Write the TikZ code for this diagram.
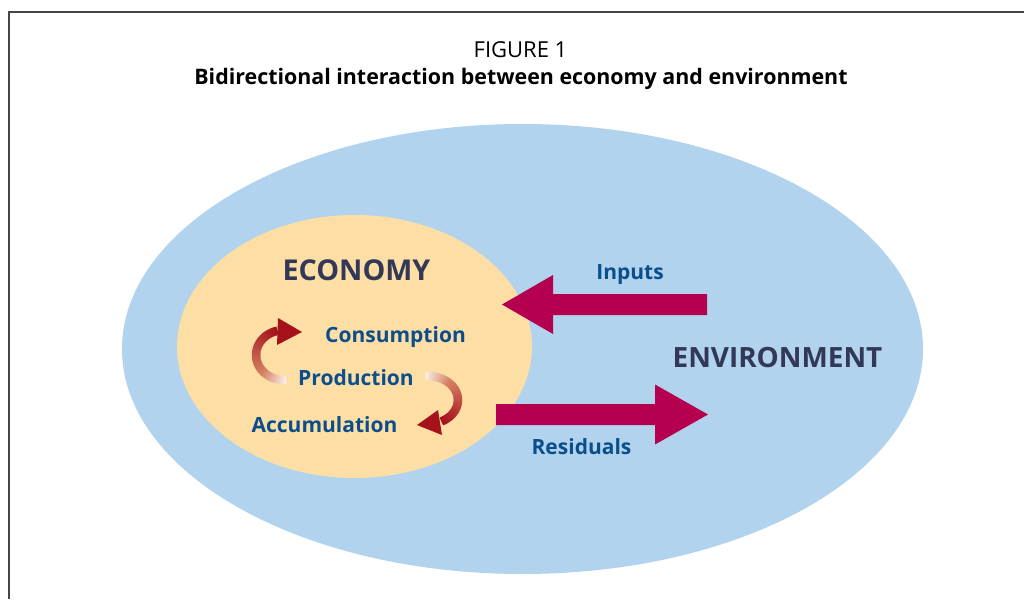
\documentclass[tikz,border=0pt]{standalone}
\usepackage{fontspec}
\setmainfont{Open Sans}
\definecolor{envblue}{RGB}{177,211,238}
\definecolor{ecopeach}{RGB}{253,223,166}
\definecolor{flowmag}{RGB}{181,0,80}
\definecolor{lblblue}{RGB}{12,78,140}
\definecolor{darkslate}{RGB}{50,56,85}
\definecolor{arcred}{RGB}{165,18,28}
\definecolor{arcpale}{RGB}{250,236,226}
\definecolor{arcmid}{RGB}{214,128,100}
\definecolor{framegray}{RGB}{70,70,70}
\newcommand{\gradarc}[6]{%
  \foreach \k in {0,...,39}{%
    \pgfmathsetmacro{\aa}{#5+(#6-#5)*\k/40}%
    \pgfmathsetmacro{\bb}{#5+(#6-#5)*(\k+1.4)/40}%
    \pgfmathsetmacro{\myt}{\k/39}%
    \pgfmathsetmacro{\pa}{min(100,\myt/0.3*100)}%
    \pgfmathsetmacro{\pb}{max(0,(\myt-0.3)/0.7*100)}%
    \colorlet{segA}{arcmid!\pa!arcpale}%
    \colorlet{segB}{arcred!\pb!segA}%
    \draw[segB, line width=8.5pt] ([shift={(\aa:#3 and #4)}]#1,#2) arc[start angle=\aa, end angle=\bb, x radius=#3, y radius=#4];
  }%
}
\tikzset{
  lbl/.style={text=lblblue, font=\bfseries\fontsize{21}{24}\selectfont, anchor=base, inner sep=0pt},
  bigl/.style={text=darkslate, font=\bfseries\fontsize{28.7}{32}\selectfont, anchor=base, inner sep=0pt},
  flow/.style={fill=flowmag, draw=none},
  headtri/.style={fill=arcred, draw=none}
}
\begin{document}
\begin{tikzpicture}[x=1pt,y=-1pt]
\useasboundingbox (0,0) rectangle (1024,599);
% frame
\draw[framegray, line width=1.3pt] (9,599) -- (9,12) -- (1024,12);
% titles
\node[anchor=base, inner sep=0pt, font=\fontsize{22}{26}\selectfont] (fig) at (520.5,57.5) {FIGURE 1};
\node[anchor=base, inner sep=0pt, font=\bfseries\fontsize{21.4}{25}\selectfont] (title) at (521,85) {Bidirectional interaction between economy and environment};
% ellipses
\fill[envblue] (522.5,349) ellipse [x radius=400.5, y radius=225];
\fill[ecopeach] (354.5,346.5) ellipse [x radius=177.5, y radius=131.5];
% flow arrows
\fill[flow] (707,294) -- (553,294) -- (553,275) -- (502,304.5) -- (553,334) -- (553,315) -- (707,315) -- cycle;
\fill[flow] (496,404) -- (655,404) -- (655,384.5) -- (708,414.5) -- (655,444.5) -- (655,425) -- (496,425) -- cycle;
% labels
\node[bigl] (eco) at (356.5,280) {ECONOMY};
\node[bigl, font=\bfseries\fontsize{27.9}{31}\selectfont] (env) at (777.5,367) {ENVIRONMENT};
\node[lbl] (inp) at (630,279) {Inputs};
\node[lbl] (cons) at (395.5,342.3) {Consumption};
\node[lbl] (prod) at (356,385) {Production};
\node[lbl] (acc) at (324.5,432.3) {Accumulation};
\node[lbl] (res) at (581.5,454.5) {Residuals};
% cycle arrows
\gradarc{284}{355}{28}{25}{85}{255}
\fill[headtri] (278,318) -- (302,332) -- (277,345) -- cycle;
\gradarc{428}{400}{30}{24}{265}{422}
\fill[headtri] (438,410) -- (417,425) -- (442,435) -- cycle;
\end{tikzpicture}
\end{document}
